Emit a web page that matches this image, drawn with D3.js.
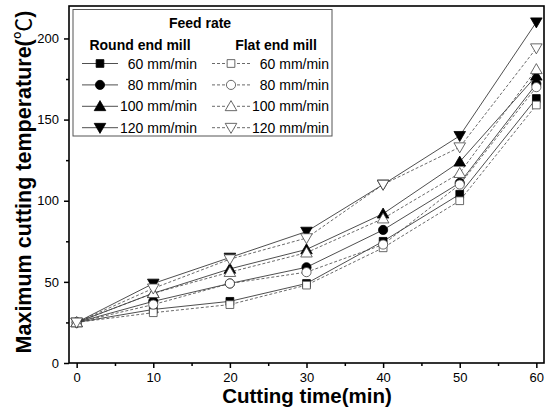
<!DOCTYPE html>
<html>
<head>
<meta charset="utf-8">
<script src="https://cdn.jsdelivr.net/npm/d3@7"></script>
<style>
  body { margin: 0; background: #fff; }
  svg { font-family: "Liberation Sans", Arial, sans-serif; }
</style>
</head>
<body>
<svg width="547" height="409"></svg>
<script>
const svg = d3.select("svg");

// Data
const times = [0, 10, 20, 30, 40, 50, 60];
const feedLabels = ["60 mm/min", "80 mm/min", "100 mm/min", "120 mm/min"];
const round60 = [25, 33, 38, 49, 75, 104, 163];
const round80 = [25, 38, 49, 59, 82, 111, 172];
const round100 = [25, 43, 58, 70, 92, 124, 177];
const round120 = [25, 49, 65, 81, 110, 140, 210];
const flat60 = [25, 31, 36, 48, 71, 100, 159];
const flat80 = [25, 36, 49, 56, 73, 110, 170];
const flat100 = [25, 43, 56, 68, 89, 117, 181];
const flat120 = [25, 46, 64, 77, 110, 133, 194];
const xTicks = [0, 10, 20, 30, 40, 50, 60];
const yTicks = [0, 50, 100, 150, 200];

const roundSeries = [round60, round80, round100, round120];
const flatSeries = [flat60, flat80, flat100, flat120];
const shapes = ["square", "circle", "up", "down"];

const mLeft = 69, mRight = 544, mTop = 6, mBottom = 363;

const xScale = d3.scaleLinear().domain([-1, 61]).range([mLeft, mRight]);
const yScale = d3.scaleLinear().domain([0, 220]).range([mBottom, mTop]);

// symbol helper
const symbolPath = (shape, size) => {
    if (shape === "square") return d3.symbol(d3.symbolSquare, size)();
    if (shape === "circle") return d3.symbol(d3.symbolCircle, size)();
    return d3.symbol(d3.symbolTriangle, size)();
};
const drawMarker = (g, shape, x, y, filled) => {
    const size = shape === "square" ? 60 : shape === "circle" ? 66 : 58;
    let ty = 0;
    if (shape === "up") ty = 1;
    if (shape === "down") ty = -1;
    g.append("path")
        .attr("d", symbolPath(shape, size))
        .attr("transform", `translate(${x},${y + ty})` + (shape === "down" ? " rotate(180)" : ""))
        .attr("fill", filled ? "#000" : "#fff")
        .attr("stroke", filled ? "#000" : "#444")
        .attr("stroke-width", 0.8);
};

const line = d3.line()
    .x((d, i) => xScale(times[i]))
    .y(d => yScale(d));

const plot = svg.append("g");

// lines
roundSeries.forEach(s => {
    plot.append("path").attr("d", line(s))
        .attr("fill", "none").attr("stroke", "#222").attr("stroke-width", 0.8);
});
flatSeries.forEach(s => {
    plot.append("path").attr("d", line(s))
        .attr("fill", "none").attr("stroke", "#444").attr("stroke-width", 0.8)
        .attr("stroke-dasharray", "3,2");
});

// markers
roundSeries.forEach((s, k) => {
    s.forEach((v, i) => drawMarker(plot, shapes[k], xScale(times[i]), yScale(v), true));
});
flatSeries.forEach((s, k) => {
    s.forEach((v, i) => drawMarker(plot, shapes[k], xScale(times[i]), yScale(v), false));
});

// frame
svg.append("rect")
    .attr("x", mLeft).attr("y", mTop)
    .attr("width", mRight - mLeft).attr("height", mBottom - mTop)
    .attr("fill", "none").attr("stroke", "#000").attr("stroke-width", 1.6);

// axes
svg.append("g")
    .attr("transform", `translate(0,${mBottom})`)
    .call(d3.axisBottom(xScale).tickValues(xTicks).tickSize(5).tickPadding(5));
svg.append("g")
    .attr("transform", `translate(0,${mBottom})`)
    .call(d3.axisBottom(xScale).tickValues([5, 15, 25, 35, 45, 55]).tickSize(3).tickFormat(""));
svg.append("g")
    .attr("transform", `translate(${mLeft},0)`)
    .call(d3.axisLeft(yScale).tickValues(yTicks).tickSize(5).tickPadding(5));
svg.append("g")
    .attr("transform", `translate(${mLeft},0)`)
    .call(d3.axisLeft(yScale).tickValues([25, 75, 125, 175]).tickSize(3).tickFormat(""));

svg.selectAll(".domain").remove();
svg.selectAll(".tick line").attr("stroke", "#000").attr("stroke-width", 1.5);
svg.selectAll(".tick text")
    .attr("fill", "#000")
    .style("font-size", "13px")
    .style("font-family", "Liberation Sans, Arial, sans-serif");

// axis titles
svg.append("text")
    .attr("x", 307).attr("y", 403)
    .attr("text-anchor", "middle")
    .style("font-size", "20.5px").style("font-weight", "bold")
    .text("Cutting time(min)");
const yTitle = svg.append("text")
    .attr("transform", `translate(31,182) rotate(-90)`)
    .attr("text-anchor", "middle")
    .style("font-size", "21.5px").style("font-weight", "bold");
yTitle.append("tspan").text("Maximum cutting temperature(");
yTitle.append("tspan").style("font-family", "Noto Sans CJK SC").style("font-weight", "normal").text("℃");
yTitle.append("tspan").text(")");

// legend
const legend = svg.append("g");
legend.append("rect")
    .attr("x", 73).attr("y", 9.5).attr("width", 259).attr("height", 126.5)
    .attr("fill", "#fff").attr("stroke", "#555").attr("stroke-width", 1);
legend.append("text")
    .attr("x", 200).attr("y", 28).attr("text-anchor", "middle")
    .style("font-size", "14px").style("font-weight", "bold").text("Feed rate");
legend.append("text")
    .attr("x", 140).attr("y", 50).attr("text-anchor", "middle")
    .style("font-size", "14px").style("font-weight", "bold").text("Round end mill");
legend.append("text")
    .attr("x", 276).attr("y", 50).attr("text-anchor", "middle")
    .style("font-size", "14px").style("font-weight", "bold").text("Flat end mill");

feedLabels.forEach((lab, k) => {
    const y = 63.5 + k * 21.4;
    legend.append("line").attr("x1", 82).attr("x2", 118).attr("y1", y).attr("y2", y)
        .attr("stroke", "#222").attr("stroke-width", 0.8);
    drawMarker(legend, shapes[k], 100, y, true);
    legend.append("text").attr("x", 197).attr("y", y + 5).attr("text-anchor", "end")
        .style("font-size", "14px").text(lab);
    legend.append("line").attr("x1", 212).attr("x2", 250).attr("y1", y).attr("y2", y)
        .attr("stroke", "#444").attr("stroke-width", 0.8).attr("stroke-dasharray", "3,2");
    drawMarker(legend, shapes[k], 231, y, false);
    legend.append("text").attr("x", 329).attr("y", y + 5).attr("text-anchor", "end")
        .style("font-size", "14px").text(lab);
});
</script>
</body>
</html>
